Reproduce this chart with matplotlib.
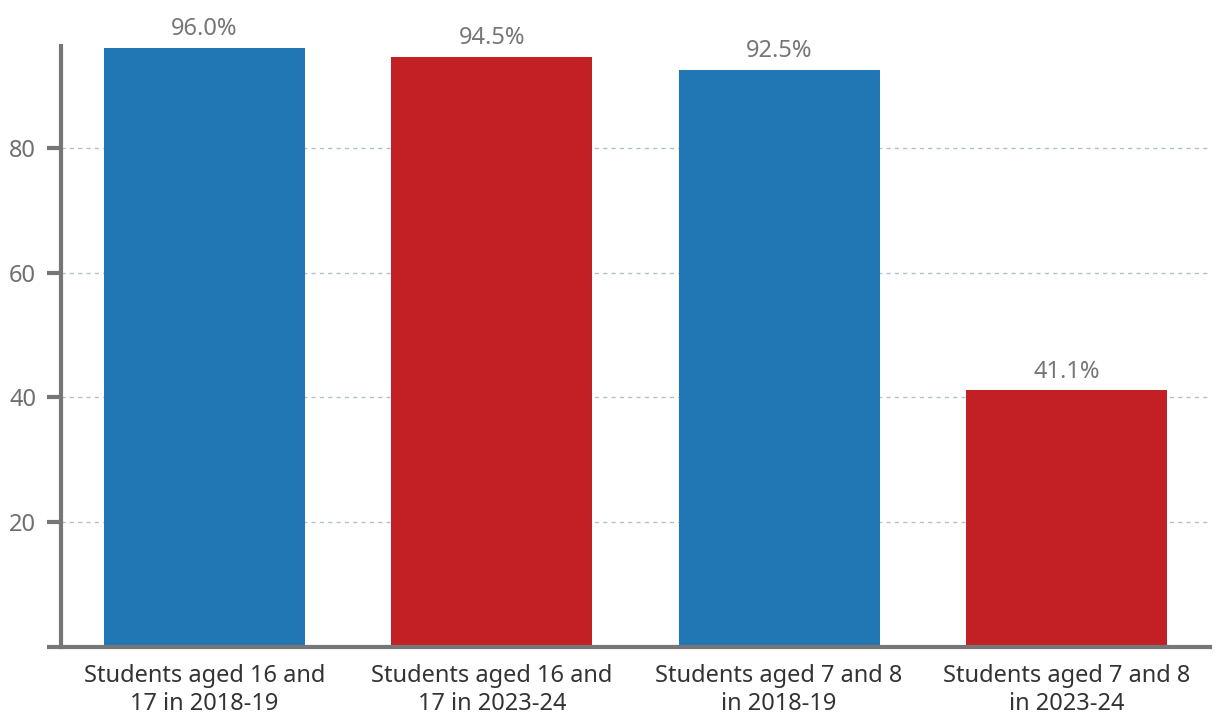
import matplotlib.pyplot as plt

plt.rcParams['font.family'] = ['Noto Sans', 'DejaVu Sans']

# data
categories = ['Students aged 16 and\n17 in 2018-19', 'Students aged 16 and\n17 in 2023-24',
              'Students aged 7 and 8\nin 2018-19', 'Students aged 7 and 8\nin 2023-24']
values = [96.0, 94.5, 92.5, 41.1]
bar_colors = ['#2077b4', '#c32026', '#2077b4', '#c32026']
yticks = [0, 20, 40, 60, 80]
ytick_labels = ['', '20', '40', '60', '80']

fig = plt.figure(figsize=(12.2, 7.28), dpi=100)
ax = fig.add_axes([0.05, 0.1113, 0.9418, 0.8255])

x = range(len(categories))
bars = ax.bar(x, values, width=0.7, color=bar_colors, zorder=2)

for bar, val in zip(bars, values):
    ax.annotate(f'{val:.1f}%', (bar.get_x() + bar.get_width() / 2, bar.get_height()),
                xytext=(0, 5), textcoords='offset points', ha='center', va='bottom',
                fontsize=17, color='#767676')

ax.set_xlim(-0.5, 3.5)
ax.set_ylim(0, 96.3)
ax.set_xticks(list(x))
ax.set_xticklabels(categories, fontsize=17, color='#333333', linespacing=1.25)
ax.set_yticks(yticks)
ax.set_yticklabels(ytick_labels, fontsize=17, color='#6f6f6f')

ax.grid(True, axis='y', linestyle=(0, (3, 3)), color='#b3c0c8', linewidth=1, zorder=0)
ax.set_axisbelow(True)

for s in ['top', 'right']:
    ax.spines[s].set_visible(False)
for s in ['left', 'bottom']:
    ax.spines[s].set_color('#767676')
    ax.spines[s].set_linewidth(3)

ax.tick_params(axis='y', length=10, width=3, color='#767676', pad=8)
ax.tick_params(axis='x', length=0, pad=12)

plt.savefig('out.png', dpi=100)
